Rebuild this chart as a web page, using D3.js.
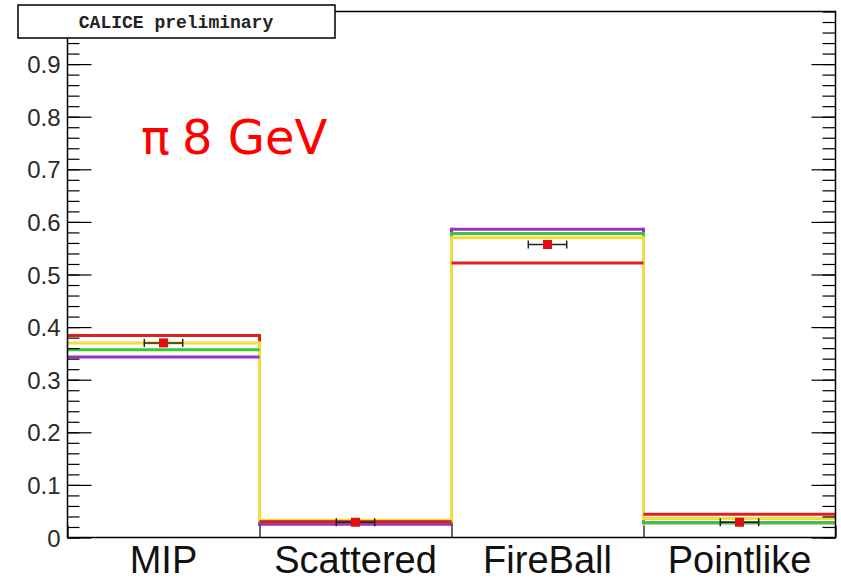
<!DOCTYPE html>
<html>
<head>
<meta charset="utf-8">
<script src="https://cdn.jsdelivr.net/npm/d3@7"></script>
<style>
  html, body { margin: 0; padding: 0; background: #fff; }
  svg { display: block; }
</style>
</head>
<body>
<svg id="chart" width="841" height="580"></svg>
<script>
// Categories of the event classification
const categories = ["MIP", "Scattered", "FireBall", "Pointlike"];

// Simulated fractions per category (one histogram per model)
const redValues    = [0.384, 0.030, 0.522, 0.044];
const purpleValues = [0.343, 0.025, 0.586, 0.028];
const greenValues  = [0.357, 0.030, 0.578, 0.028];
const yellowValues = [0.370, 0.033, 0.570, 0.036];

// Measured fractions (red squares with horizontal error bars)
const dataValues = [0.370, 0.029, 0.557, 0.029];

// Y axis tick values
const majorTicks = [0, 0.1, 0.2, 0.3, 0.4, 0.5, 0.6, 0.7, 0.8, 0.9];
const minorTicks = d3.range(0, 51).map(i => i * 0.02);

const series = [
  { name: "red",    values: redValues,    color: "#dd1f1f" },
  { name: "purple", values: purpleValues, color: "#9b2fc6" },
  { name: "green",  values: greenValues,  color: "#38c838" },
  { name: "yellow", values: yellowValues, color: "#f4dc3a" }
];
// Stacking order of the bin tops (bottom to top)
const topOrder = ["yellow", "purple", "green", "red"];

const svg = d3.select("#chart");
const plotLeft = 67.5, plotRight = 835.5, plotTop = 11.5, plotBottom = 537.5;

const x = d3.scaleBand().domain(categories).range([plotLeft, plotRight]).padding(0);
const xEdge = d3.scaleLinear().domain([0, categories.length]).range([plotLeft, plotRight]);
const y = d3.scaleLinear().domain([0, 1]).range([plotBottom, plotTop]);

// Vertical steps between neighbouring bins
const hist = svg.append("g");
series.forEach(s => {
  const steps = d3.range(1, s.values.length).map(i => ({ i, a: s.values[i - 1], b: s.values[i] }));
  hist.append("g").selectAll("line").data(steps).join("line")
    .attr("x1", d => xEdge(d.i)).attr("x2", d => xEdge(d.i))
    .attr("y1", d => y(d.a)).attr("y2", d => y(d.b))
    .attr("stroke", s.color).attr("stroke-width", 3).attr("stroke-linecap", "square");
});

// Bin tops
topOrder.forEach(name => {
  const s = series.find(d => d.name === name);
  hist.append("g").selectAll("line").data(s.values).join("line")
    .attr("x1", (d, i) => xEdge(i)).attr("x2", (d, i) => xEdge(i + 1))
    .attr("y1", d => y(d)).attr("y2", d => y(d))
    .attr("stroke", s.color).attr("stroke-width", 3);
});

// Data points with horizontal error bars
const bw = x.bandwidth();
const marks = svg.append("g");
dataValues.forEach((v, i) => {
  const cx = x(categories[i]) + bw / 2;
  const cy = y(v);
  const ex = bw * 0.1;
  marks.append("line").attr("x1", cx - ex).attr("x2", cx + ex)
    .attr("y1", cy).attr("y2", cy).attr("stroke", "#222").attr("stroke-width", 1.5);
  [cx - ex, cx + ex].forEach(xx => {
    marks.append("line").attr("x1", xx).attr("x2", xx)
      .attr("y1", cy - 4).attr("y2", cy + 4).attr("stroke", "#222").attr("stroke-width", 1.5);
  });
  marks.append("rect").attr("x", cx - 4.5).attr("y", cy - 4.5)
    .attr("width", 9).attr("height", 9).attr("fill", "#e01010");
});

// Left axis: minor ticks, then labelled major ticks
svg.append("g").attr("transform", `translate(${plotLeft},0)`)
  .call(d3.axisLeft(y).tickValues(minorTicks).tickSize(-12).tickFormat(""))
  .call(g => g.select(".domain").remove())
  .call(g => g.selectAll("line").attr("stroke", "#000").attr("stroke-width", 1.2));

svg.append("g").attr("transform", `translate(${plotLeft},0)`)
  .call(d3.axisLeft(y).tickValues(majorTicks).tickSize(-24).tickPadding(7)
    .tickFormat(d => d3.format("~g")(d)))
  .call(g => g.select(".domain").remove())
  .call(g => g.selectAll("line").attr("stroke", "#000").attr("stroke-width", 1.2))
  .call(g => g.selectAll("text")
    .attr("font-family", "'Liberation Sans', Arial, sans-serif")
    .attr("font-size", 24).attr("fill", "#2a2a2a").attr("dy", "0.36em"));

// Right axis ticks (no labels)
svg.append("g").attr("transform", `translate(${plotRight},0)`)
  .call(d3.axisRight(y).tickValues(minorTicks).tickSize(-13).tickFormat(""))
  .call(g => g.select(".domain").remove())
  .call(g => g.selectAll("line").attr("stroke", "#000").attr("stroke-width", 1.2));
svg.append("g").attr("transform", `translate(${plotRight},0)`)
  .call(d3.axisRight(y).tickValues(majorTicks).tickSize(-24).tickFormat(""))
  .call(g => g.select(".domain").remove())
  .call(g => g.selectAll("line").attr("stroke", "#000").attr("stroke-width", 1.2));

// Bottom axis: ticks at bin edges, category names under each bin
svg.append("g").attr("transform", `translate(0,${plotBottom})`)
  .call(d3.axisBottom(xEdge).tickValues(d3.range(0, categories.length + 1)).tickSize(-12).tickFormat(""))
  .call(g => g.select(".domain").remove())
  .call(g => g.selectAll("line").attr("stroke", "#000").attr("stroke-width", 1.2));

svg.append("g").attr("transform", `translate(0,${plotBottom})`)
  .call(d3.axisBottom(x).tickSize(0).tickPadding(9))
  .call(g => g.select(".domain").remove())
  .call(g => g.selectAll("text")
    .attr("font-family", "'Liberation Sans', Arial, sans-serif")
    .attr("font-size", 38).attr("fill", "#111").attr("dy", "0.71em"));

// Frame
svg.append("rect").attr("x", plotLeft).attr("y", plotTop)
  .attr("width", plotRight - plotLeft).attr("height", plotBottom - plotTop)
  .attr("fill", "none").attr("stroke", "#000").attr("stroke-width", 1.5);

// Title box
svg.append("rect").attr("x", 18).attr("y", 5).attr("width", 317).attr("height", 33)
  .attr("fill", "#fff").attr("stroke", "#000").attr("stroke-width", 1.5);
svg.append("text").attr("x", 176).attr("y", 28)
  .attr("text-anchor", "middle")
  .attr("font-family", "'Liberation Mono', 'Courier New', monospace")
  .attr("font-weight", "bold").attr("font-size", 18).attr("fill", "#222")
  .text("CALICE preliminary");

// Beam label
const beam = svg.append("text").attr("y", 154)
  .attr("font-family", "'DejaVu Sans', sans-serif")
  .attr("font-size", 48).attr("fill", "#ff0000");
beam.append("tspan").attr("x", 141).text("π");
beam.append("tspan").attr("x", 182).text("8 GeV");
</script>
</body>
</html>
